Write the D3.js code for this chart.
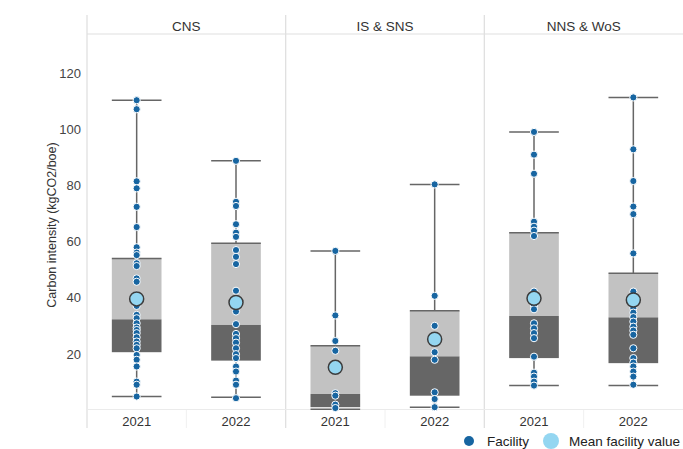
<!DOCTYPE html>
<html><head><meta charset="utf-8">
<script src="https://cdn.jsdelivr.net/npm/d3@7"></script>
<style>body{margin:0;background:#fff}svg{display:block;font-family:"Liberation Sans",Arial,sans-serif}</style>
</head><body><svg id="c" width="683" height="449"></svg>
<script>
const panels = ["CNS", "IS & SNS", "NNS & WoS"];
const years = ["2021", "2022"];
const yTicks = [20, 40, 60, 80, 100, 120];

// facility values per group
const cns2021 = [110.4,107.2,81.5,79.0,72.4,65.2,58.0,56.1,55.2,52.3,51.3,46.9,45.7,41.0,37.1,33.9,32.7,30.9,29.4,28.5,27.4,25.9,24.4,23.2,22.0,19.6,17.9,15.5,10.1,9.0,4.8];
const cns2022 = [88.8,74.2,72.7,66.2,63.2,61.7,57.0,54.6,52.0,42.5,39.0,35.1,30.6,27.1,25.6,24.0,22.0,19.9,18.5,15.5,13.7,10.5,9.0,4.2];
const isSns2021 = [56.7,33.7,24.6,21.1,6.0,5.1,1.9,0.7];
const isSns2022 = [80.4,40.7,30.0,20.6,17.9,6.3,3.9,1.0];
const nns2021 = [99.1,91.0,84.2,67.1,65.3,63.9,62.0,42.2,37.1,35.9,30.9,29.1,27.4,25.6,19.0,13.3,11.9,10.1,8.7];
const nns2022 = [111.4,92.9,81.6,72.5,69.8,55.8,42.2,38.6,36.3,34.7,33.1,31.5,29.7,28.3,26.8,22.0,18.5,16.9,15.5,13.7,11.9,9.0];

// box statistics, order: CNS21, CNS22, IS21, IS22, NNS21, NNS22
const whiskerLow  = [4.8, 4.5, 0.3, 1.0, 8.7, 8.7];
const q1          = [20.6, 17.6, 1.0, 5.1, 18.5, 16.7];
const median      = [32.3, 30.3, 5.7, 19.1, 33.5, 33.0];
const q3          = [54.0, 59.4, 22.9, 35.4, 63.2, 48.7];
const whiskerHigh = [110.4, 88.8, 56.7, 80.4, 99.1, 111.4];
const meanValue   = [39.6, 38.3, 15.2, 25.2, 39.8, 39.2];

const facility = [cns2021, cns2022, isSns2021, isSns2022, nns2021, nns2022];

const groups = [];
panels.forEach((p, pi) => years.forEach((yr, yi) => {
  const i = pi * 2 + yi;
  groups.push({panel: p, year: yr, pts: facility[i], lo: whiskerLow[i], q1: q1[i], med: median[i], q3: q3[i], hi: whiskerHigh[i], mean: meanValue[i]});
}));

const svg = d3.select("#c");
const mLeft = 87, mRight = 683, mTop = 34, mBottom = 410, frameTop = 15;
const y = d3.scaleLinear().domain([0, 134]).range([mBottom, mTop]);
const px = d3.scaleBand().domain(panels).range([mLeft, mRight]);
const yx = d3.scaleBand().domain(years).range([0, px.bandwidth()]).paddingInner(0.5).paddingOuter(0.25);
const cx = g => px(g.panel) + yx(g.year) + yx.bandwidth() / 2;
const grid = "#e0e0e0";

// frame
panels.forEach(p => {
  svg.append("line").attr("x1", px(p)).attr("x2", px(p)).attr("y1", frameTop).attr("y2", mBottom + 18).attr("stroke", grid).attr("stroke-width", 1.3);
  svg.append("text").attr("x", px(p) + px.bandwidth() / 2).attr("y", 31).attr("text-anchor", "middle").attr("font-size", 13.5).attr("fill", "#333").text(p);
  svg.append("line").attr("x1", px(p) + px.bandwidth() / 2).attr("x2", px(p) + px.bandwidth() / 2).attr("y1", mBottom).attr("y2", mBottom + 18).attr("stroke", "#f0f0f0");
});
svg.append("line").attr("x1", mLeft).attr("x2", mRight).attr("y1", mTop).attr("y2", mTop).attr("stroke", grid).attr("stroke-width", 1.2);
svg.append("line").attr("x1", mLeft).attr("x2", mRight).attr("y1", mBottom - 0.5).attr("y2", mBottom - 0.5).attr("stroke", "#ebebeb").attr("stroke-width", 1.2);

// y axis
const yAxis = svg.append("g").attr("transform", `translate(${mLeft},0)`)
  .call(d3.axisLeft(y).tickValues(yTicks).tickSize(0).tickPadding(6));
yAxis.select(".domain").remove();
yAxis.selectAll("text").attr("font-size", 13).attr("fill", "#444").attr("font-family", "Liberation Sans, Arial, sans-serif");
svg.append("text").attr("transform", `translate(56,${(mTop + mBottom) / 2 + 3}) rotate(-90)`).attr("text-anchor", "middle").attr("font-size", 12.5).attr("fill", "#333").text("Carbon intensity (kgCO2/boe)");

// x labels
groups.forEach(g => {
  svg.append("text").attr("x", cx(g)).attr("y", 426).attr("text-anchor", "middle").attr("font-size", 13).attr("fill", "#333").text(g.year);
});

const bw = yx.bandwidth();
const boxes = svg.append("g");
groups.forEach(g => {
  const x0 = cx(g) - bw / 2;
  boxes.append("rect").attr("x", x0).attr("width", bw).attr("y", y(g.q3)).attr("height", y(g.med) - y(g.q3)).attr("fill", "#c2c2c2");
  boxes.append("rect").attr("x", x0).attr("width", bw).attr("y", y(g.med)).attr("height", y(g.q1) - y(g.med)).attr("fill", "#666666");
  boxes.append("line").attr("x1", x0).attr("x2", x0 + bw).attr("y1", y(g.q3)).attr("y2", y(g.q3)).attr("stroke", "#666").attr("stroke-width", 1.5);
  boxes.append("line").attr("x1", cx(g)).attr("x2", cx(g)).attr("y1", y(g.hi)).attr("y2", y(g.q3)).attr("stroke", "#666").attr("stroke-width", 1.5);
  boxes.append("line").attr("x1", cx(g)).attr("x2", cx(g)).attr("y1", y(g.q1)).attr("y2", y(g.lo)).attr("stroke", "#666").attr("stroke-width", 1.5);
  [g.hi, g.lo].forEach(v => boxes.append("line").attr("x1", x0).attr("x2", x0 + bw).attr("y1", y(v)).attr("y2", y(v)).attr("stroke", "#666").attr("stroke-width", 1.5));
});

const ptsG = svg.append("g");
groups.forEach(g => {
  ptsG.selectAll(null).data(g.pts).enter().append("circle")
    .attr("cx", cx(g)).attr("cy", d => y(d)).attr("r", 3.6)
    .attr("fill", "#1765a1").attr("stroke", "#fff").attr("stroke-width", 1);
});
groups.forEach(g => {
  svg.append("circle").attr("cx", cx(g)).attr("cy", y(g.mean)).attr("r", 7)
    .attr("fill", "#94d6f1").attr("stroke", "#3c3c3c").attr("stroke-width", 1.5);
});

// legend
const lg = svg.append("g");
lg.append("circle").attr("cx", 469).attr("cy", 441).attr("r", 5).attr("fill", "#1765a1");
lg.append("text").attr("x", 487).attr("y", 446).attr("font-size", 13.5).attr("fill", "#222").text("Facility");
lg.append("circle").attr("cx", 551).attr("cy", 441).attr("r", 8).attr("fill", "#94d6f1");
lg.append("text").attr("x", 569).attr("y", 446).attr("font-size", 13.5).attr("fill", "#222").text("Mean facility value");
</script></body></html>
